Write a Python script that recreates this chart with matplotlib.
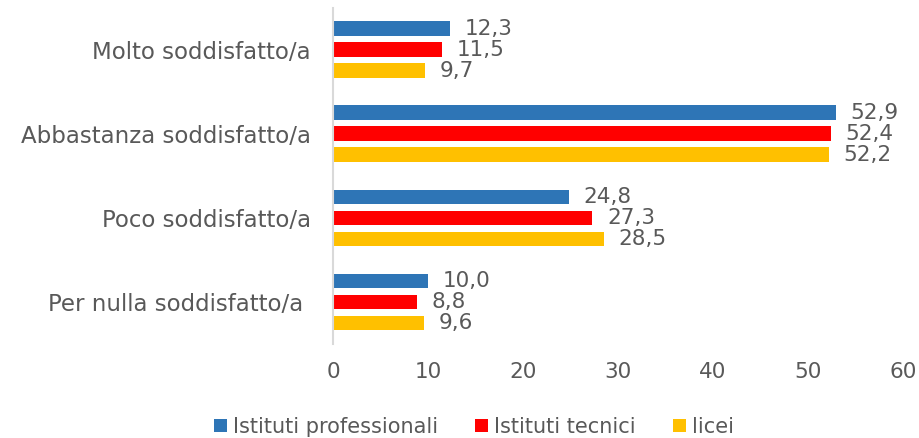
import matplotlib
matplotlib.use("Agg")
import matplotlib.pyplot as plt
import numpy as np

categories = ["Molto soddisfatto/a", "Abbastanza soddisfatto/a", "Poco soddisfatto/a", "Per nulla soddisfatto/a "]
series_names = ["Istituti professionali", "Istituti tecnici", "licei"]
professionali = [12.3, 52.9, 24.8, 10.0]
tecnici = [11.5, 52.4, 27.3, 8.8]
licei = [9.7, 52.2, 28.5, 9.6]
colors = ["#2E75B6", "#FF0000", "#FFC000"]
xticks = [0, 10, 20, 30, 40, 50, 60]

plt.rcParams['font.family'] = ['DejaVu Sans']
txt = "#595959"

fig = plt.figure(figsize=(9.19, 4.38), dpi=100)
top_px, bot_px = 7.5, 344
ax = fig.add_axes([333/919, 1-bot_px/438, (903-333)/919, (bot_px-top_px)/438])

n = len(categories)
y = np.arange(n)
pitch = 0.25
h = 0.173
for i, (vals, col) in enumerate(zip([professionali, tecnici, licei], colors)):
    pos = y + (i - 1) * pitch
    ax.barh(pos, vals, height=h, color=col, label=series_names[i])
    for p, v in zip(pos, vals):
        ax.annotate(f"{v:.1f}".replace(".", ","), (v, p), xytext=(10.5, 0), textcoords="offset points",
                    va="center", ha="left", fontsize=15.5, color=txt)

ax.set_ylim(n - 0.5, -0.5)
ax.set_xlim(0, 60)
ax.set_xticks(xticks)
ax.set_xticklabels([str(t) for t in xticks], fontsize=15.5, color=txt)
ax.set_yticks(y)
ax.set_yticklabels(categories, fontsize=16.5, color=txt)
ax.tick_params(axis="y", length=0, pad=16)
ax.tick_params(axis="x", length=0, pad=13)
for s in ["top", "right", "bottom"]:
    ax.spines[s].set_visible(False)
ax.spines["left"].set_color("#D9D9D9")
ax.spines["left"].set_linewidth(1.5)

fig.legend(loc="center", bbox_to_anchor=(474/919, 1-427/438), ncol=3, frameon=False,
           fontsize=15, labelcolor=txt, handlelength=0.62, handleheight=0.62,
           handletextpad=0.28, columnspacing=1.8, borderaxespad=0, borderpad=0)

fig.savefig("out.png", dpi=100)
